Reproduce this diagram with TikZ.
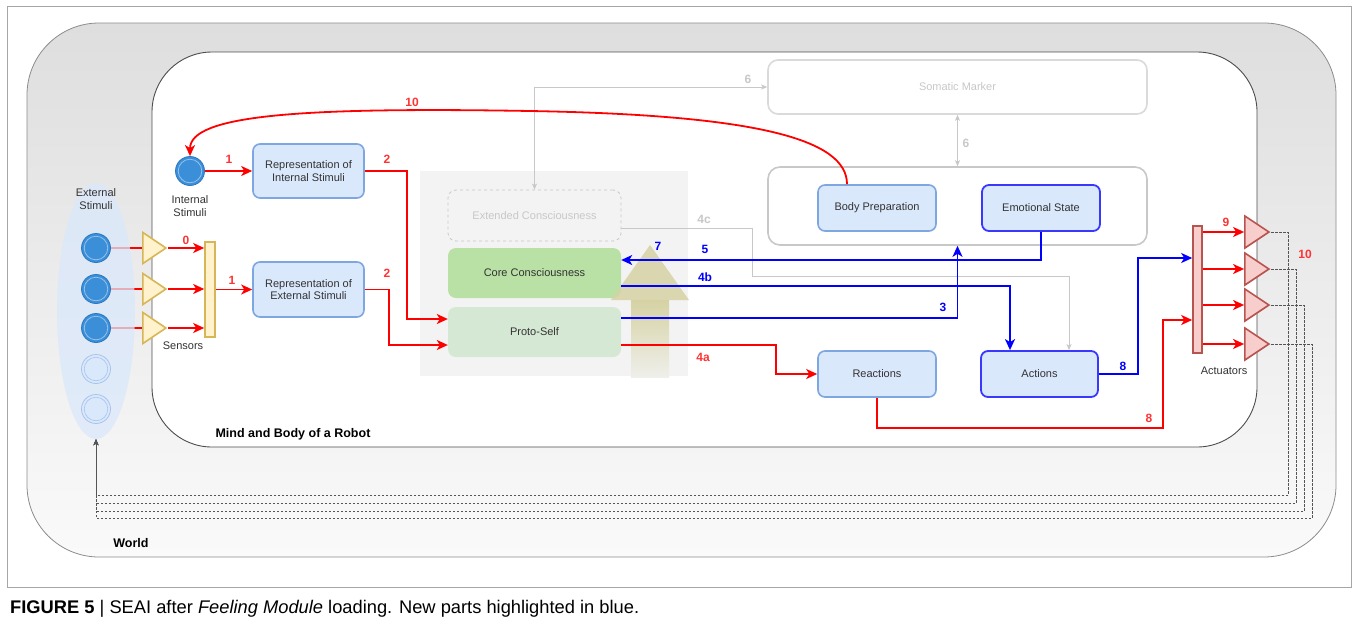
\documentclass[tikz,border=0pt]{standalone}
\usepackage{fontspec}
\setmainfont{Liberation Sans}
\usetikzlibrary{arrows.meta,shapes.geometric,calc}
\pgfdeclarelayer{bgl}
\pgfdeclarelayer{lns}
\pgfsetlayers{bgl,lns,main}
\definecolor{lblue}{HTML}{DAE8FC}
\definecolor{mblue}{HTML}{7EA6E0}
\definecolor{nblue}{HTML}{3838FF}
\definecolor{txt}{HTML}{333333}
\definecolor{lgray}{HTML}{C8C8C8}
\definecolor{sgray}{HTML}{DADADA}
\definecolor{redc}{HTML}{FF0000}
\definecolor{labred}{HTML}{FF3333}
\definecolor{bluec}{HTML}{0000FF}
\definecolor{corec}{HTML}{B9E0A5}
\definecolor{protoc}{HTML}{D5E8D4}
\definecolor{regc}{HTML}{F3F3F3}
\definecolor{sensf}{HTML}{FFF2CC}
\definecolor{sensd}{HTML}{D6B656}
\definecolor{actf}{HTML}{F8CECC}
\definecolor{actd}{HTML}{B85450}
\definecolor{circf}{HTML}{3B8FD8}
\definecolor{circd}{HTML}{2B78C0}
\definecolor{circr}{HTML}{9CC6EE}
\definecolor{fdotd}{HTML}{A9C4EB}
\definecolor{framec}{HTML}{A6A6A6}
\definecolor{worldd}{HTML}{8C8C8C}
\definecolor{worldt}{HTML}{DEDEDE}
\definecolor{worldb}{HTML}{FAFAFA}
\definecolor{mindd}{HTML}{4D4D4D}
\definecolor{dgray}{HTML}{555555}
\definecolor{arrt}{HTML}{D6D2A4}
\definecolor{arrb}{HTML}{EFEFEB}
\begin{document}
\begin{tikzpicture}[x=1pt,y=-1pt,
  rtip/.tip={Stealth[length=11pt,width=10pt,inset=3pt]},
  gtip/.tip={Stealth[length=6pt,width=5pt,inset=1.5pt]},
  dtip/.tip={Stealth[length=6pt,width=5pt,inset=1.5pt]},
  txtf/.style={font=\fontsize{11}{12.5}\selectfont, text=txt, align=center, inner sep=0pt},
  box/.style={txtf, rounded corners=7pt, fill=lblue, draw=mblue, line width=1.6pt},
  newbox/.style={box, draw=nblue, line width=1.8pt},
  num/.style={font=\fontsize{12}{12}\selectfont\bfseries, inner sep=0pt},
  rnum/.style={num, text=labred},
  bnum/.style={num, text=bluec},
  gnum/.style={num, text=lgray},
  rline/.style={draw=redc, line width=1.8pt, -rtip},
  bline/.style={draw=bluec, line width=1.8pt, -rtip},
  gline/.style={draw=lgray, line width=1pt, -gtip},
  dline/.style={draw=dgray, line width=0.8pt, dash pattern=on 2.5pt off 1.5pt, -dtip},
  sens/.style={isosceles triangle, isosceles triangle stretches, shape border rotate=0,
    minimum width=31, minimum height=23, inner sep=0pt, fill=sensf, draw=sensd, line width=1.6pt, anchor=apex},
  actr/.style={isosceles triangle, isosceles triangle stretches, shape border rotate=0,
    minimum width=32, minimum height=24, inner sep=0pt, fill=actf, draw=actd, line width=1.6pt, anchor=apex},
  dot/.style={circle, minimum size=29, inner sep=0pt, fill=circf, draw=circd, line width=0.8pt,
    path picture={\draw[circr, line width=0.7pt] (path picture bounding box.center) circle[radius=11.8pt];}},
  fdot/.style={circle, minimum size=29, inner sep=0pt, fill=lblue, draw=fdotd, line width=0.8pt,
    path picture={\draw[fdotd, line width=0.6pt] (path picture bounding box.center) circle[radius=11.8pt];}},
  estyle/.style={ellipse, minimum width=78, minimum height=256, fill=lblue, fill opacity=0.75, draw=none},
  bar/.style={inner sep=0pt, line width=1.6pt}
]
\useasboundingbox (0,0) rectangle (1356,627);

\begin{pgfonlayer}{bgl}
\draw[framec, line width=0.6pt] (7,6) rectangle (1351,587);
\draw[draw=worldd, line width=0.8pt, top color=worldt, bottom color=worldb, rounded corners=72pt] (27,23) rectangle (1336,557);
\draw[draw=mindd, line width=0.9pt, fill=white, rounded corners=60pt] (152,52) rectangle (1257,447);
\fill[regc] (420,171) rectangle (688,376);
\end{pgfonlayer}

% external stimuli
\node[estyle] (estim) at (96,311) {};
\node[txtf] (elab) at (96,199) {External\\Stimuli};
\node[dot] (c1) at (96,248) {};
\node[dot] (c2) at (96,289) {};
\node[dot] (c3) at (96,328) {};
\node[fdot] (c4) at (96,369) {};
\node[fdot] (c5) at (96,409) {};

% internal stimuli
\node[dot] (isc) at (190,171) {};
\node[txtf] (ilab) at (190,206) {Internal\\Stimuli};

% sensors
\node[sens] (s1) at (168,248) {};
\node[sens] (s2) at (168,289) {};
\node[sens] (s3) at (168,328) {};
\node[bar, fill=sensf, draw=sensd, minimum width=10, minimum height=95] (sbar) at (210,289.5) {};
\node[txtf] (slab) at (183,346) {Sensors};

% representations
\node[box, minimum width=111, minimum height=54] (repint) at (308.5,171) {Representation of\\Internal Stimuli};
\node[box, minimum width=111, minimum height=55] (repext) at (308.5,289.5) {Representation of\\External Stimuli};

% consciousness
\node[txtf, text=lgray, draw=lgray, dashed, rounded corners=8pt, line width=0.8pt, minimum width=173, minimum height=51] (extc) at (534.5,215.5) {Extended Consciousness};
\node[txtf, fill=corec, rounded corners=8pt, minimum width=173, minimum height=50] (core) at (534.5,273) {Core Consciousness};
\node[txtf, fill=protoc, rounded corners=8pt, minimum width=173, minimum height=50] (proto) at (534.5,332) {Proto-Self};

% big arrow 7
\fill[top color=arrt, bottom color=arrb] (631,300) rectangle (669,377);
\fill[arrt, fill opacity=0.85] (611,300) -- (650,245) -- (689,300) -- cycle;

% feeling
\node[txtf, text=lgray, draw=sgray, fill=white, rounded corners=10pt, line width=1.6pt, minimum width=379, minimum height=54] (soma) at (957.5,87) {Somatic Marker};
\node[draw=lgray, fill=white, rounded corners=12pt, line width=1.6pt, minimum width=379, minimum height=78, inner sep=0pt] (feel) at (957.5,206) {};
\node[box, minimum width=118, minimum height=46] (bodyp) at (877,208) {Body Preparation};
\node[newbox, minimum width=118, minimum height=46] (emo) at (1041,208) {Emotional State};

% reactions / actions
\node[box, minimum width=118, minimum height=46] (react) at (877,374) {Reactions};
\node[newbox, minimum width=117, minimum height=46] (act) at (1039.5,374) {Actions};

% actuators
\node[bar, fill=actf, draw=actd, minimum width=9, minimum height=127] (actbar) at (1197.5,289.5) {};
\node[actr] (a1) at (1271,232) {};
\node[actr] (a2) at (1271,269) {};
\node[actr] (a3) at (1271,305) {};
\node[actr] (a4) at (1271,344) {};
\node[txtf] (alab) at (1224,371) {Actuators};

% container labels
\node[font=\fontsize{12.5}{14}\selectfont\bfseries, inner sep=0pt] (mlab) at (293,434) {Mind and Body of a Robot};
\node[font=\fontsize{12.5}{14}\selectfont\bfseries, inner sep=0pt] (wlab) at (131,543) {World};

% number labels
\node[rnum] (l0) at (186,240) {0};
\node[rnum] (l1a) at (229,159) {1};
\node[rnum] (l1b) at (232,280) {1};
\node[rnum] (l2a) at (387,159) {2};
\node[rnum] (l2b) at (387,273) {2};
\node[rnum] (l10a) at (412,102) {10};
\node[gnum] (l6a) at (748,79) {6};
\node[gnum] (l6b) at (966,143) {6};
\node[gnum] (l4c) at (704,219) {4c};
\node[bnum] (l7) at (658,246) {7};
\node[bnum] (l5) at (705,249) {5};
\node[bnum] (l4b) at (705,277) {4b};
\node[bnum] (l3) at (943,307) {3};
\node[rnum] (l4a) at (703,357) {4a};
\node[bnum] (l8b) at (1123,366) {8};
\node[rnum] (l8r) at (1149,418) {8};
\node[rnum] (l9) at (1226,222) {9};
\node[rnum] (l10b) at (1305,254) {10};

% caption
\node[anchor=west, font=\fontsize{18.3}{21}\selectfont, inner sep=0pt] (cap) at (10,609)
  {\textbf{FIGURE 5} | SEAI after \textit{Feeling Module} loading. New parts highlighted in blue.};

% connectors under other things
\begin{pgfonlayer}{lns}
\draw[rline,-] (c1) -- (s1.west);
\draw[rline,-] (c2) -- (s2.west);
\draw[rline,-] (c3) -- (s3.west);
\draw[dline] (a1.apex) -| (1288,495) -| (estim.south);
\draw[dline] (a2.apex) -| (1296,503) -| (estim.south);
\draw[dline] (a3.apex) -| (1304,511) -| (estim.south);
\draw[dline] (a4.apex) -| (1312,518) -| (estim.south);
\end{pgfonlayer}

% gray connectors
\draw[gline, gtip-gtip] (feel.north) -- (soma.south);
\draw[gline, gtip-gtip] (soma.west) -| (extc.north);
\draw[gline] ([yshift=-12.5pt]extc.east) -- ++(131,0) |- ($(act.north)+(29.5,-74)$) -- ($(act.north)+(29.5,0)$);

% red connectors
\draw[rline] ([yshift=-13pt]proto.east) -- ++(155,0) |- (react.west);
\draw[rline] (s1.apex) -- (s1.apex -| sbar.west);
\draw[rline] (s2.apex) -- (s2.apex -| sbar.west);
\draw[rline] (s3.apex) -- (s3.apex -| sbar.west);
\draw[rline] (sbar) -- (repext);
\draw[rline] (isc) -- (repint);
\draw[rline] (repint.east) -- ++(42,0) |- ([yshift=13pt]proto.west);
\draw[rline] (repext.east) -- ++(24,0) |- ([yshift=-13pt]proto.west);
\draw[rline] (react.south) -- ++(0,30) -| (1163,320) -- ([yshift=-30.5pt]actbar.west);
\draw[rline] (actbar.east |- a1) -- (a1.west);
\draw[rline] (actbar.east |- a2) -- (a2.west);
\draw[rline] (actbar.east |- a3) -- (a3.west);
\draw[rline] (actbar.east |- a4) -- (a4.west);
\draw[rline] ([xshift=-30pt]bodyp.north) .. controls (847,140) and (760,115) .. (530,111)
  .. controls (300,107) and (190,115) .. (isc.north);

% blue connectors
\draw[bline] (emo.south) |- ([yshift=13pt]core.east);
\draw[bline] ([yshift=-13pt]core.east) -| ([xshift=-29.5pt]act.north);
\draw[bline] ([yshift=14pt]proto.east) -| (feel.south);
\draw[bline] (act.east) -- ++(39,0) |- ([yshift=31.5pt]actbar.west);
\end{tikzpicture}
\end{document}
